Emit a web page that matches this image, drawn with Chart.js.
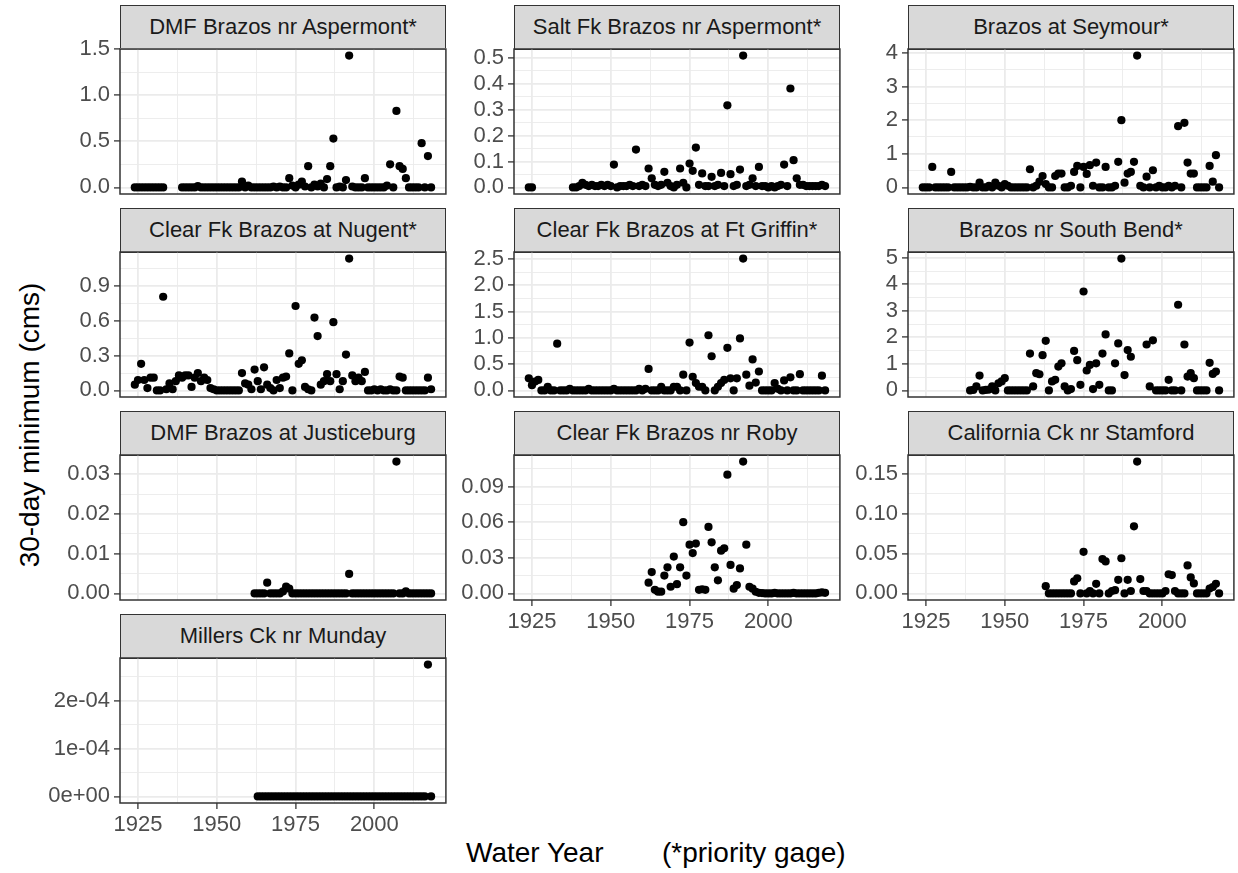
<!DOCTYPE html>
<html><head><meta charset="utf-8">
<script src="https://cdn.jsdelivr.net/npm/chart.js@4"></script>
<style>
html,body{margin:0;padding:0;background:#fff;}
body{width:1238px;height:873px;position:relative;overflow:hidden;font-family:"Liberation Sans",Arial,sans-serif;}
.strip{position:absolute;background:#D9D9D9;border:1.5px solid #333;box-sizing:border-box;text-align:center;color:#1A1A1A;font-size:22px;}
.wrap{position:absolute;}
.ytitle{position:absolute;font-size:28px;color:#000;white-space:nowrap;transform:rotate(-90deg);transform-origin:center center;}
.xtitle{position:absolute;font-size:28px;color:#000;white-space:pre;}
</style></head><body>
<div class="ytitle" id="ytitle">30-day minimum (cms)</div>
<div class="xtitle" id="xtitle">Water Year</div>
<div class="xtitle" id="xtitle2">(*priority gage)</div>
<script>
// ---------------- data ----------------
const YEARS = [1924,1925,1926,1927,1928,1929,1930,1931,1932,1933,
 1934,1935,1936,1937,1938,1939,1940,1941,1942,1943,
 1944,1945,1946,1947,1948,1949,1950,1951,1952,1953,
 1954,1955,1956,1957,1958,1959,1960,1961,1962,1963,
 1964,1965,1966,1967,1968,1969,1970,1971,1972,1973,
 1974,1975,1976,1977,1978,1979,1980,1981,1982,1983,
 1984,1985,1986,1987,1988,1989,1990,1991,1992,1993,
 1994,1995,1996,1997,1998,1999,2000,2001,2002,2003,
 2004,2005,2006,2007,2008,2009,2010,2011,2012,2013,
 2014,2015,2016,2017,2018];

const X_TICKS = [1925,1950,1975,2000];
const X_TICK_LABELS = ['1925','1950','1975','2000'];

const PANEL_TITLES = ['DMF Brazos nr Aspermont*','Salt Fk Brazos nr Aspermont*','Brazos at Seymour*',
 'Clear Fk Brazos at Nugent*','Clear Fk Brazos at Ft Griffin*','Brazos nr South Bend*',
 'DMF Brazos at Justiceburg','Clear Fk Brazos nr Roby','California Ck nr Stamford','Millers Ck nr Munday'];

const DMF_ASPERMONT = [
 0,0,0,0,0,0,0,0,0,0,
 null,null,null,null,null,0,0,0,0,0,
 0.015,0,0,0,0,0,0,0,0,0,
 0,0,0,0,0.064,0,0.02,0,0,0,
 0,0,0,0,0.01,0,0.01,0,0,0.10,
 0.02,0,0.03,0.064,0.01,0.23,0,0.03,0.01,0.04,
 0,0.09,0.23,0.53,0,0.01,0,0.08,1.43,0.01,
 0,0,0,0.10,0,0,0,0,0,0,
 0.02,0.25,0,0.83,0.23,0.20,0.10,0,0,0,
 0,0.48,0,0.34,0];
const SALT_FK_ASPERMONT = [
 0,0,null,null,null,null,null,null,null,null,
 null,null,null,null,0,0,0.005,0.018,0.01,0.005,
 0.01,0.005,0.005,0.01,0.005,0.01,0.005,0.088,0,0.005,
 0.005,0.005,0.01,0.005,0.146,0.005,0.01,0.005,0.073,0.035,
 0.01,0.005,0.01,0.06,0.018,0.005,0,0.01,0.073,0.018,
 0,0.092,0.064,0.154,0.01,0.054,0.005,0.005,0.041,0.005,
 0.01,0.056,0.005,0.317,0.051,0.005,0.01,0.069,0.509,0.005,
 0.01,0.035,0.005,0.079,0.005,0.005,0,0.005,0,0.005,
 0.01,0.088,0.005,0.382,0.105,0.035,0.01,0.01,0.005,0.005,
 0.005,0.005,0.005,0.01,0.005];
const SEYMOUR = [
 0,0,0,0.61,0,0,0,0,0,0.46,
 0,0,0,0,0,0.02,0,0,0.14,0,
 0,0.05,0,0.14,0.05,0,0.1,0.05,0,0,
 0,0,0,0,0.54,0,0.05,0.17,0.34,0.1,
 0,0,0.34,0.41,0.41,0,0,0.05,0.46,0.64,
 0,0.61,0.4,0.66,0.05,0.74,0,0,0.61,0,
 0,0.05,0.76,2.0,0.14,0.41,0.46,0.76,3.92,0.05,
 0,0.32,0,0.51,0,0.05,0,0,0.05,0,
 0.05,1.82,0,1.92,0.74,0.41,0.41,0,0,0,
 0,0.64,0.17,0.96,0];
const NUGENT = [
 0.05,0.09,0.23,0.09,0.02,0.11,0.11,0,0,0.81,
 0.01,0.06,0.01,0.08,0.13,0.11,0.13,0.13,0.03,0.11,
 0.15,0.08,0.11,0.09,0.02,0.01,0,0,0,0,
 0,0,0,0,0.15,0.06,0.05,0.01,0.18,0.08,
 0.01,0.2,0.05,0.02,0,0.09,0.02,0.11,0.12,0.32,
 0,0.73,0.23,0.26,0.03,0.01,0,0.63,0.47,0.05,
 0.08,0.14,0.08,0.59,0.14,0.01,0.08,0.31,1.14,0.13,
 0.08,0.11,0.08,0.16,0,0,0.01,0,0.01,0,
 0,0.01,0,0,0.12,0.11,0,0,0,0,
 0,0,0,0.11,0.01];
const FT_GRIFFIN = [
 0.23,0.1,0.17,0.2,0,0,0.07,0,0,0.89,
 0,0,0,0.03,0,0,0,0,0,0.03,
 0,0,0,0,0,0,0,0.03,0,0,
 0,0,0,0,0,0.03,0,0.03,0.41,0,
 0,0,0.07,0,0,0,0.07,0.07,0,0.3,
 0,0.91,0.26,0.14,0.07,0.07,0,1.05,0.65,0,
 0.07,0.14,0.2,0.81,0.23,0,0.23,0.99,2.51,0.3,
 0.09,0.59,0.15,0.36,0,0,0,0,0.14,0.03,
 0,0.19,0,0.25,0,0,0.31,0,0,0,
 0,0,0,0.28,0];
const SOUTH_BEND = [
 null,null,null,null,null,null,null,null,null,null,
 null,null,null,null,null,0,0.02,0.15,0.56,0,
 0.02,0.03,0.15,0,0.27,0.34,0.46,0,0,0,
 0,0,0,0,1.39,0.15,0.65,0.61,1.33,1.87,
 0,0.34,0.4,0.9,1.02,0.15,0,0.05,1.49,1.14,
 0.21,3.73,0.75,0.96,0.05,1.02,0.21,1.39,2.11,0,
 0,1.02,1.77,4.97,0.58,1.52,1.27,null,null,null,
 null,1.73,0.15,1.89,0,0,0,0,0.4,0,
 0,3.23,0,1.73,0.52,0.65,0.46,0,0,0,
 0,1.04,0.62,0.71,0];
const JUSTICEBURG = [
 null,null,null,null,null,null,null,null,null,null,
 null,null,null,null,null,null,null,null,null,null,
 null,null,null,null,null,null,null,null,null,null,
 null,null,null,null,null,null,null,null,0,0,
 0,0,0.0027,0,0,0,0,0.0005,0.0017,0.0012,
 0,0,0,0,0,0,0,0,0,0,
 0,0,0,0,0,0,0,0,0.0049,0,
 0,0,0,0,0,0,0,0,0,0,
 0,0,0,0.0332,0,0,0.0005,0,0,0,
 0,0,0,0,0];
const ROBY = [
 null,null,null,null,null,null,null,null,null,null,
 null,null,null,null,null,null,null,null,null,null,
 null,null,null,null,null,null,null,null,null,null,
 null,null,null,null,null,null,null,null,0.009,0.018,
 0.003,0.0015,0.0015,0.015,0.022,0.0056,0.031,0.0078,0.022,0.06,
 0.015,0.041,0.034,0.042,0.003,0.0035,0.003,0.056,0.043,0.022,
 0.011,0.036,0.038,0.1,0.024,0.004,0.007,0.021,0.111,0.041,
 0.0056,0.004,0.0014,0.0005,0.0003,0,0,0,0.0005,0,
 0,0,0,0,0.0005,0,0,0,0,0,
 0,0,0.0005,0.0008,0.0005];
const STAMFORD = [
 null,null,null,null,null,null,null,null,null,null,
 null,null,null,null,null,null,null,null,null,null,
 null,null,null,null,null,null,null,null,null,null,
 null,null,null,null,null,null,null,null,null,0.009,
 0,0,0,0,0,0,0,0,0.015,0.019,
 0,0.052,0,0.003,0,0.012,0,0.043,0.04,0,
 0.003,0.004,0.017,0.044,0,0.017,0.003,0.084,0.165,0.018,
 0.003,0.003,0,0,0,0,0,0.003,0.024,0.023,
 0.003,0,0,0,0.035,0.02,0.0125,0,0,0,
 0,0.006,0.008,0.012,0];
const MUNDAY = [
 null,null,null,null,null,null,null,null,null,null,
 null,null,null,null,null,null,null,null,null,null,
 null,null,null,null,null,null,null,null,null,null,
 null,null,null,null,null,null,null,null,null,0,
 0,0,0,0,0,0,0,0,0,0,
 0,0,0,0,0,0,0,0,0,0,
 0,0,0,0,0,0,0,0,0,0,
 0,0,0,0,0,0,0,0,0,0,
 0,0,0,0,0,0,0,0,0,0,
 0,0,0,0.000275,0];

const Y_TICKS = [
 [0,0.5,1.0,1.5],
 [0,0.1,0.2,0.3,0.4,0.5],
 [0,1,2,3,4],
 [0,0.3,0.6,0.9],
 [0,0.5,1.0,1.5,2.0,2.5],
 [0,1,2,3,4,5],
 [0,0.01,0.02,0.03],
 [0,0.03,0.06,0.09],
 [0,0.05,0.10,0.15],
 [0,0.0001,0.0002]];
const Y_TICK_LABELS = [
 ['0.0','0.5','1.0','1.5'],
 ['0.0','0.1','0.2','0.3','0.4','0.5'],
 ['0','1','2','3','4'],
 ['0.0','0.3','0.6','0.9'],
 ['0.0','0.5','1.0','1.5','2.0','2.5'],
 ['0','1','2','3','4','5'],
 ['0.00','0.01','0.02','0.03'],
 ['0.00','0.03','0.06','0.09'],
 ['0.00','0.05','0.10','0.15'],
 ['0e+00','1e-04','2e-04']];

const SERIES = [DMF_ASPERMONT,SALT_FK_ASPERMONT,SEYMOUR,NUGENT,FT_GRIFFIN,SOUTH_BEND,JUSTICEBURG,ROBY,STAMFORD,MUNDAY];

// ---------------- layout ----------------
const COL_LEFT = [120,514,908];
const ROW_TOP = [5,208,411,614];
const STRIP_H = 44, PLOT_W = 326, PLOT_H = 145;
const BOTTOM_PANELS = [7,8,9];
const FONT = '"Liberation Sans", Arial, sans-serif';

const borderPlugin = {
  id:'panelBorder',
  afterDatasetsDraw(chart){
    const a = chart.chartArea, c = chart.ctx;
    c.save(); c.strokeStyle = '#333333'; c.lineWidth = 1.5;
    c.strokeRect(a.left, a.top, a.right-a.left, a.bottom-a.top);
    c.restore();
  }
};

function near(a,b,eps){return Math.abs(a-b) <= eps;}

SERIES.forEach((vals, idx) => {
  const col = idx % 3, row = Math.floor(idx/3);
  const plotLeft = COL_LEFT[col], stripTop = ROW_TOP[row], plotTop = stripTop + STRIP_H;
  const bottom = BOTTOM_PANELS.includes(idx);

  const strip = document.createElement('div');
  strip.className = 'strip';
  strip.style.left = plotLeft + 'px'; strip.style.top = stripTop + 'px';
  strip.style.width = PLOT_W + 'px'; strip.style.height = (STRIP_H + 1) + 'px';
  strip.style.lineHeight = (STRIP_H - 2) + 'px';
  strip.textContent = PANEL_TITLES[idx];
  document.body.appendChild(strip);

  const padT = 16, axisW = 90, xH = bottom ? 44 : 0, padB = bottom ? 0 : 16, padR = 4;
  const W = axisW + PLOT_W + padR, H = padT + PLOT_H + xH + padB;
  const wrap = document.createElement('div');
  wrap.className = 'wrap';
  wrap.style.left = (plotLeft - axisW) + 'px'; wrap.style.top = (plotTop - padT) + 'px';
  wrap.style.width = W + 'px'; wrap.style.height = H + 'px';
  const cv = document.createElement('canvas');
  cv.width = W; cv.height = H; cv.style.width = W + 'px'; cv.style.height = H + 'px';
  wrap.appendChild(cv);
  document.body.appendChild(wrap);

  const pts = [];
  YEARS.forEach((y,i) => { if (vals[i] !== null) pts.push({x:y, y:vals[i]}); });
  const present = vals.filter(v => v !== null);
  const yMinD = Math.min(...present), yMaxD = Math.max(...present);
  const yr = yMaxD - yMinD;
  const yMin = yMinD - 0.05*yr, yMax = yMaxD + 0.05*yr;
  const xMin = 1924 - 0.05*94, xMax = 2018 + 0.05*94;

  const major = Y_TICKS[idx];
  const step = major[1] - major[0];
  const yTicks = [];
  major.forEach(v => { if (v >= yMin && v <= yMax) yTicks.push({v, major:true}); });
  for (let k = -1; k < major.length; k++) {
    const m = major[0] + (k + 0.5) * step;
    if (m >= yMin && m <= yMax) yTicks.push({v:m, major:false});
  }
  yTicks.sort((a,b)=>a.v-b.v);
  const yEps = step * 1e-3;
  const isMajorY = v => major.some(t => near(t, v, yEps));

  const xAll = [1925,1937.5,1950,1962.5,1975,1987.5,2000,2012.5];
  const isMajorX = v => X_TICKS.some(t => near(t, v, 1e-6));

  new Chart(cv, {
    type:'scatter',
    data:{datasets:[{data:pts, pointRadius:4.1, pointHoverRadius:4.1, backgroundColor:'#000000', borderWidth:0, pointBorderWidth:0}]},
    options:{
      responsive:false, animation:false, events:[],
      layout:{padding:{top:padT, bottom:padB, left:0, right:padR}},
      plugins:{legend:{display:false}, tooltip:{enabled:false}},
      scales:{
        x:{type:'linear', min:xMin, max:xMax,
          afterBuildTicks: s => { s.ticks = xAll.map(v => ({value:v})); },
          afterFit: s => { s.height = xH; s.paddingLeft = 0; s.paddingRight = 0; },
          border:{display:false},
          grid:{color:'#EBEBEB', lineWidth: c => (c.tick && isMajorX(c.tick.value)) ? 1.8 : 0.9,
                drawTicks: bottom, tickLength:6,
                tickColor: c => (c.tick && isMajorX(c.tick.value)) ? '#333333' : 'rgba(0,0,0,0)', tickWidth:1.3},
          ticks:{display:bottom, autoSkip:false, maxRotation:0, padding:3, color:'#4D4D4D', font:{family:FONT, size:22},
                 callback: v => { const i = X_TICKS.findIndex(t => near(t, v, 1e-6)); return i >= 0 ? X_TICK_LABELS[i] : ''; }}
        },
        y:{type:'linear', min:yMin, max:yMax,
          afterBuildTicks: s => { s.ticks = yTicks.map(t => ({value:t.v})); },
          afterFit: s => { s.width = axisW; s.paddingTop = 0; s.paddingBottom = 0; },
          border:{display:false},
          grid:{color:'#EBEBEB', lineWidth: c => (c.tick && isMajorY(c.tick.value)) ? 1.8 : 0.9,
                drawTicks:true, tickLength:6,
                tickColor: c => (c.tick && isMajorY(c.tick.value)) ? '#333333' : 'rgba(0,0,0,0)', tickWidth:1.3},
          ticks:{autoSkip:false, padding:4, color:'#4D4D4D', font:{family:FONT, size:22},
                 callback: v => { const i = major.findIndex(t => near(t, v, yEps)); return i >= 0 ? Y_TICK_LABELS[idx][i] : ''; }}
        }
      }
    },
    plugins:[borderPlugin]
  });
});

// axis titles
const yt = document.getElementById('ytitle');
const ytw = yt.offsetWidth, yth = yt.offsetHeight;
yt.style.left = (30 - ytw/2) + 'px';
yt.style.top = (425 - yth/2) + 'px';
const xt = document.getElementById('xtitle');
xt.style.left = '466px'; xt.style.top = '837px';
const xt2 = document.getElementById('xtitle2');
xt2.style.left = '662px'; xt2.style.top = '837px';
</script>
</body></html>
